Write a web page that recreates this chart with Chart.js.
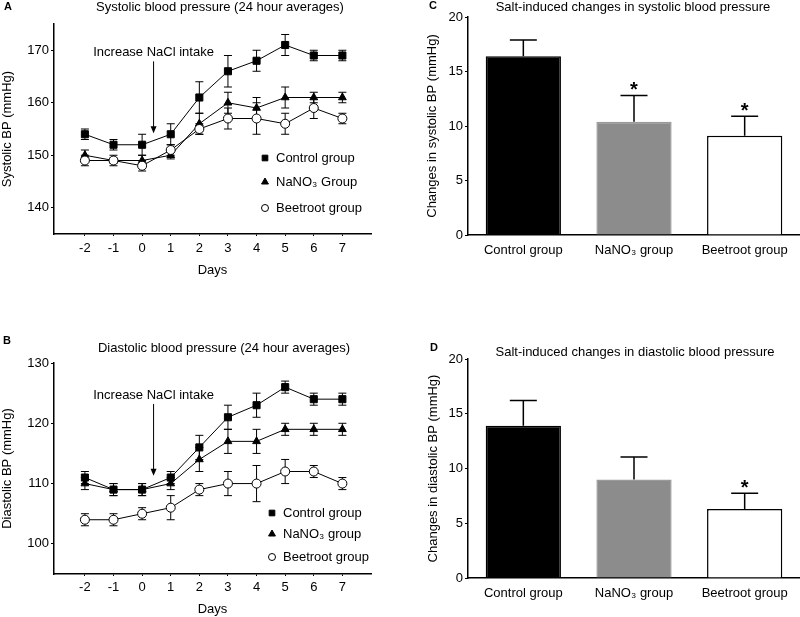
<!DOCTYPE html>
<html>
<head>
<meta charset="utf-8">
<script src="https://cdn.jsdelivr.net/npm/chart.js@4/dist/chart.umd.min.js"></script>
<style>
  body { margin: 0; background: #fff; }
  #wrap { position: relative; width: 800px; height: 617px; }
  canvas { position: absolute; }
</style>
</head>
<body>
<div id="wrap">
  <canvas id="chartA" width="400" height="300" style="left:0;top:0;width:400px;height:300px"></canvas>
  <canvas id="chartB" width="400" height="317" style="left:0;top:300px;width:400px;height:317px"></canvas>
  <canvas id="chartC" width="400" height="300" style="left:400px;top:0;width:400px;height:300px"></canvas>
  <canvas id="chartD" width="400" height="317" style="left:400px;top:300px;width:400px;height:317px"></canvas>
</div>
<script>
Chart.defaults.font.family = '"Liberation Sans", Arial, sans-serif';
Chart.defaults.font.size = 12;
Chart.defaults.color = "#000";

// ---- data ----
const days = [-2, -1, 0, 1, 2, 3, 4, 5, 6, 7];
const sysTicks = [140, 150, 160, 170];
const diaTicks = [100, 110, 120, 130];
const changeTicks = [0, 5, 10, 15, 20];

const legendA = ["Control group", "NaNO₃ Group", "Beetroot group"];
const legendB = ["Control group", "NaNO₃ group", "Beetroot group"];

const sysControl = [154, 152, 152, 154, 161, 166, 168, 171, 169, 169];
const sysControlErr = [1, 1, 2, 2, 3, 3, 2, 2, 1, 1];
const sysNitrate = [150, 149, 149, 150, 156, 160, 159, 161, 161, 161];
const sysNitrateErr = [1, 0.5, 1, 0.7, 2, 2, 2, 2, 1, 1];
const sysBeet = [149, 149, 148, 151, 155, 157, 157, 156, 159, 157];
const sysBeetErr = [1, 1, 1, 1, 1, 2, 3, 2, 2, 1];

const diaControl = [111, 109, 109, 111, 116, 121, 123, 126, 124, 124];
const diaControlErr = [1, 1, 1, 1, 2, 2, 2, 1, 1, 1];
const diaNitrate = [110, 109, 109, 110, 114, 117, 117, 119, 119, 119];
const diaNitrateErr = [1, 1, 1, 1, 2, 2, 2, 1, 1, 1];
const diaBeet = [104, 104, 105, 106, 109, 110, 110, 112, 112, 110];
const diaBeetErr = [1, 1, 1, 2, 1, 2, 3, 2, 1, 1];

const barGroups = ["Control group", "NaNO₃ group", "Beetroot group"];
const sysChange = [16.4, 10.4, 9.1];
const sysChangeErr = [1.5, 2.4, 1.8];
const sysSig = ["", "*", "*"];
const diaChange = [13.9, 9.0, 6.3];
const diaChangeErr = [2.3, 2.05, 1.45];
const diaSig = ["", "", "*"];

// ---- styles ----
const markers = [
  { pointStyle: "rect", radius: 5, bg: "#000", legendRadius: 4 },
  { pointStyle: "triangle", radius: 4.5, bg: "#000", legendRadius: 4 },
  { pointStyle: "circle", radius: 4.5, bg: "#fff", legendRadius: 3.5 }
];
const barFills = ["#000", "#8c8c8c", "#fff"];
const barEdges = ["#000", "#9a9a9a", "#000"];

// error bars, titles, legend, arrow and asterisks
const panelPlugin = {
  id: "panel",
  beforeDatasetsDraw(chart, args, opts) {
    if (!opts.upOnly) drawErrors(chart, opts);
  },
  afterDatasetsDraw(chart, args, opts) {
    if (opts.upOnly) drawErrors(chart, opts);
  },
  afterDraw(chart, args, opts) {
    const ctx = chart.ctx;
    ctx.save();
    ctx.fillStyle = "#000";
    ctx.strokeStyle = "#000";
    ctx.textBaseline = "middle";

    ctx.font = '13px "Liberation Sans", Arial, sans-serif';
    ctx.textAlign = "center";
    ctx.fillText(opts.title, opts.titleX, opts.titleY);

    ctx.font = 'bold 11px "Liberation Sans", Arial, sans-serif';
    ctx.textAlign = "left";
    ctx.fillText(opts.letter, opts.letterX, opts.letterY);

    if (opts.legendX) {
      ctx.font = '13px "Liberation Sans", Arial, sans-serif';
      chart.data.datasets.forEach((ds, i) => {
        const y = opts.legendYs[i];
        ctx.fillStyle = markers[i].bg;
        ctx.lineWidth = 1;
        Chart.helpers.drawPoint(ctx, {
          pointStyle: markers[i].pointStyle,
          radius: markers[i].legendRadius,
          rotation: 0,
          borderWidth: 1
        }, opts.legendX, y);
        ctx.fillStyle = "#000";
        ctx.fillText(ds.label, opts.legendX + 11, y);
      });
    }

    if (opts.arrowDay !== undefined) {
      const xs = chart.scales.x, ys = chart.scales.y;
      const ax = xs.getPixelForValue(opts.arrowDay);
      const ty = ys.getPixelForValue(opts.arrowTextVal);
      const tip = ys.getPixelForValue(opts.arrowTipVal);
      ctx.font = '13px "Liberation Sans", Arial, sans-serif';
      ctx.textAlign = "center";
      ctx.fillText(opts.arrowText, ax, ty);
      ctx.lineWidth = 1;
      ctx.beginPath();
      ctx.moveTo(ax, ty + 9);
      ctx.lineTo(ax, tip - 5);
      ctx.stroke();
      ctx.beginPath();
      ctx.moveTo(ax, tip);
      ctx.lineTo(ax - 3, tip - 7);
      ctx.lineTo(ax + 3, tip - 7);
      ctx.closePath();
      ctx.fill();
    }

    if (opts.sig) {
      const ys = chart.scales.y;
      const ds = chart.data.datasets[0];
      const meta = chart.getDatasetMeta(0);
      ctx.font = 'bold 20px "Liberation Sans", Arial, sans-serif';
      ctx.textAlign = "center";
      ctx.textBaseline = "alphabetic";
      meta.data.forEach((el, j) => {
        if (!opts.sig[j]) return;
        const capY = ys.getPixelForValue(ds.data[j] + ds.errors[j]);
        ctx.fillText(opts.sig[j], el.x, capY + 1);
      });
    }
    ctx.restore();
  }
};

function drawErrors(chart, opts) {
  const ctx = chart.ctx;
  const ys = chart.scales.y;
  ctx.save();
  ctx.strokeStyle = "#000";
  ctx.lineWidth = opts.errWidth;
  chart.data.datasets.forEach((ds, i) => {
    const meta = chart.getDatasetMeta(i);
    meta.data.forEach((el, j) => {
      const v = typeof ds.data[j] === "object" ? ds.data[j].y : ds.data[j];
      const hi = ys.getPixelForValue(v + ds.errors[j]);
      const lo = opts.upOnly ? el.y : ys.getPixelForValue(v - ds.errors[j]);
      ctx.beginPath();
      ctx.moveTo(el.x, lo);
      ctx.lineTo(el.x, hi);
      ctx.moveTo(el.x - opts.capHalf, hi);
      ctx.lineTo(el.x + opts.capHalf, hi);
      if (!opts.upOnly) {
        ctx.moveTo(el.x - opts.capHalf, lo);
        ctx.lineTo(el.x + opts.capHalf, lo);
      }
      ctx.stroke();
    });
  });
  ctx.restore();
}

function makeLine(id, o) {
  const datasets = o.series.map((vals, i) => ({
    label: o.legend[i],
    data: days.map((d, j) => ({ x: d, y: vals[j] })),
    errors: o.errors[i],
    borderColor: "#000",
    borderWidth: 1,
    pointStyle: markers[i].pointStyle,
    pointRadius: markers[i].radius,
    pointBackgroundColor: markers[i].bg,
    pointBorderColor: "#000",
    pointBorderWidth: 1,
    order: 2 - i
  }));
  return new Chart(document.getElementById(id), {
    type: "line",
    data: { datasets },
    options: {
      responsive: false,
      animation: false,
      layout: { padding: o.pad },
      plugins: {
        legend: { display: false },
        tooltip: { enabled: false },
        panel: Object.assign({ errWidth: 1, capHalf: 4, upOnly: false }, o.panel)
      },
      scales: {
        x: {
          type: "linear",
          min: -3.08,
          max: 8,
          afterBuildTicks: s => { s.ticks = days.map(v => ({ value: v })); },
          afterFit: s => { s.height = o.xHeight; },
          grid: { drawOnChartArea: false, tickLength: 2, color: "#000", lineWidth: 1 },
          border: { color: "#000", width: 1.5 },
          ticks: { autoSkip: false, maxRotation: 0, padding: o.xPad, font: { size: 13 } },
          title: { display: true, text: "Days", font: { size: 13 }, padding: { top: 0, bottom: o.daysPad } }
        },
        y: {
          min: o.yMin,
          max: o.yMax,
          afterBuildTicks: s => { s.ticks = o.yTicks.map(v => ({ value: v })); },
          afterFit: s => { s.width = 54; },
          grid: { drawOnChartArea: false, tickLength: 3, color: "#000", lineWidth: 1 },
          border: { color: "#000", width: 1.5 },
          ticks: { autoSkip: false, padding: 2, font: { size: 13 } },
          title: { display: true, text: o.yTitle, font: { size: 13 }, padding: { top: 0, bottom: 0 } }
        }
      }
    },
    plugins: [panelPlugin]
  });
}

function makeBar(id, o) {
  return new Chart(document.getElementById(id), {
    type: "bar",
    data: {
      labels: barGroups,
      datasets: [{
        data: o.values,
        errors: o.errors,
        backgroundColor: barFills,
        borderColor: barEdges,
        borderWidth: 1.5,
        barPercentage: 0.68,
        categoryPercentage: 1
      }]
    },
    options: {
      responsive: false,
      animation: false,
      layout: { padding: o.pad },
      plugins: {
        legend: { display: false },
        tooltip: { enabled: false },
        panel: Object.assign({ errWidth: 1.5, capHalf: 13.5, upOnly: true }, o.panel)
      },
      scales: {
        x: {
          afterFit: s => { s.height = o.xHeight; },
          grid: { display: false },
          border: { color: "#000", width: 1.5 },
          ticks: { padding: o.xPad, font: { size: 13 } }
        },
        y: {
          min: 0,
          max: 20,
          afterBuildTicks: s => { s.ticks = changeTicks.map(v => ({ value: v })); },
          afterFit: s => { s.width = 68; },
          grid: { drawOnChartArea: false, tickLength: 3, color: "#000", lineWidth: 1 },
          border: { color: "#000", width: 1.5 },
          ticks: { padding: 2, font: { size: 13 } },
          title: { display: true, text: o.yTitle, font: { size: 13 }, padding: { top: o.yTitlePad, bottom: 0 } }
        }
      }
    },
    plugins: [panelPlugin]
  });
}

makeLine("chartA", {
  series: [sysControl, sysNitrate, sysBeet],
  errors: [sysControlErr, sysNitrateErr, sysBeetErr],
  legend: legendA,
  yMin: 135, yMax: 175, yTicks: sysTicks,
  yTitle: "Systolic BP (mmHg)",
  pad: { left: 0, top: 24, right: 29, bottom: 0 },
  xHeight: 66, xPad: 5, daysPad: 22,
  panel: {
    title: "Systolic blood pressure (24 hour averages)", titleX: 220, titleY: 7,
    letter: "A", letterX: 4, letterY: 7,
    legendX: 265, legendYs: [158, 182, 208],
    arrowDay: 0.4, arrowTextVal: 169.6, arrowTipVal: 154.2, arrowText: "Increase NaCl intake"
  }
});

makeLine("chartB", {
  series: [diaControl, diaNitrate, diaBeet],
  errors: [diaControlErr, diaNitrateErr, diaBeetErr],
  legend: legendB,
  yMin: 95, yMax: 130, yTicks: diaTicks,
  yTitle: "Diastolic BP (mmHg)",
  pad: { left: 0, top: 63, right: 29, bottom: 0 },
  xHeight: 43, xPad: 4, daysPad: 0,
  panel: {
    title: "Diastolic blood pressure (24 hour averages)", titleX: 224, titleY: 48,
    letter: "B", letterX: 3, letterY: 41,
    legendX: 272, legendYs: [213, 234, 257],
    arrowDay: 0.4, arrowTextVal: 124.7, arrowTipVal: 111.3, arrowText: "Increase NaCl intake"
  }
});

makeBar("chartC", {
  values: sysChange, errors: sysChangeErr,
  yTitle: "Changes in systolic BP (mmHg)", yTitlePad: 25,
  pad: { left: 0, top: 17, right: 0, bottom: 0 },
  xHeight: 65, xPad: 0,
  panel: {
    title: "Salt-induced changes in systolic blood pressure", titleX: 233, titleY: 7,
    letter: "C", letterX: 29, letterY: 6, sig: sysSig
  }
});

makeBar("chartD", {
  values: diaChange, errors: diaChangeErr,
  yTitle: "Changes in diastolic BP (mmHg)", yTitlePad: 26,
  pad: { left: 0, top: 59, right: 0, bottom: 0 },
  xHeight: 39, xPad: 0,
  panel: {
    title: "Salt-induced changes in diastolic blood pressure", titleX: 235, titleY: 52,
    letter: "D", letterX: 30, letterY: 48, sig: diaSig
  }
});
</script>
</body>
</html>
